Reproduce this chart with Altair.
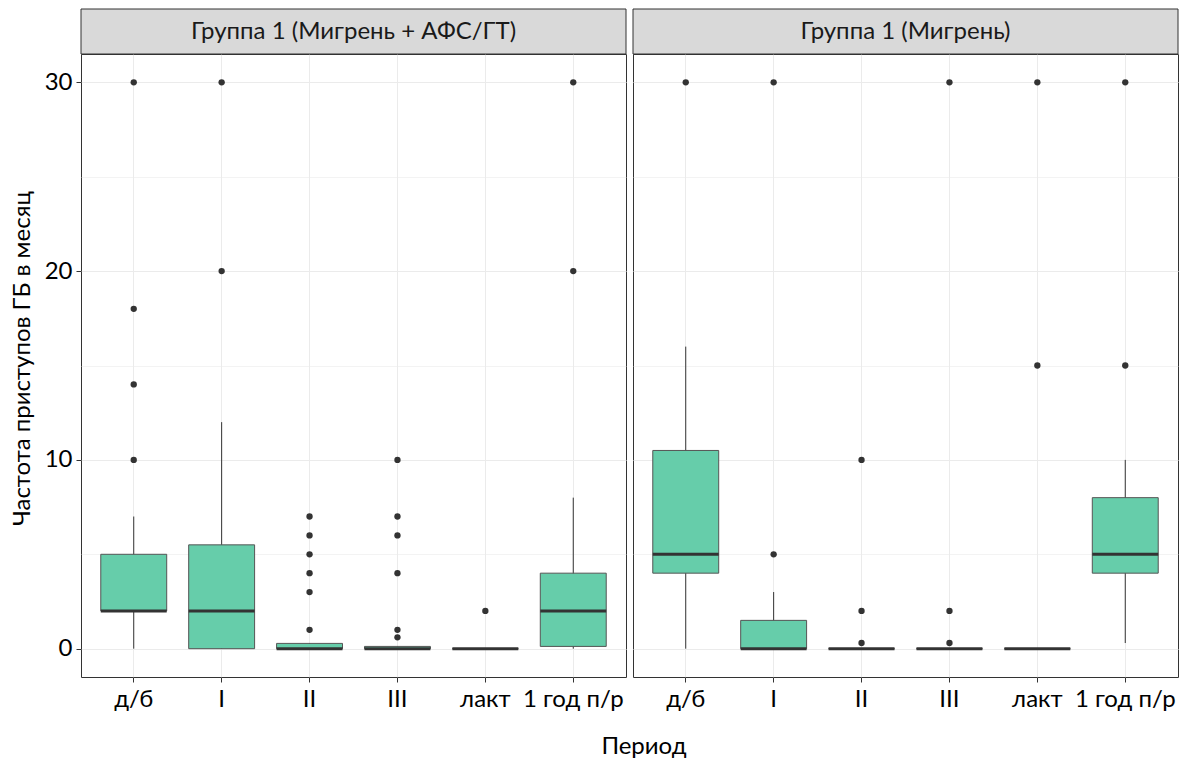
import altair as alt
import pandas as pd

periods = ["д/б", "I", "II", "III", "лакт", "1 год п/р"]
panel_titles = ["Группа 1 (Мигрень + АФС/ГТ)", "Группа 1 (Мигрень)"]
y_title = "Частота приступов ГБ в месяц"
x_title = "Период"

# Panel 1: box statistics per period
p1_q1 = [2, 0, 0, 0, 0, 0.12]
p1_med = [2, 2, 0, 0, 0, 2]
p1_q3 = [5, 5.5, 0.28, 0.12, 0, 4]
p1_lo = [0, 0, 0, 0, 0, 0]
p1_hi = [7, 12, 0.28, 0.12, 0, 8]
p1_outliers = [
    [10, 14, 18, 30],
    [20, 30],
    [1, 3, 4, 5, 6, 7],
    [0.6, 1, 4, 6, 7, 10],
    [2],
    [20, 30],
]

# Panel 2
p2_q1 = [4, 0, 0, 0, 0, 4]
p2_med = [5, 0, 0, 0, 0, 5]
p2_q3 = [10.5, 1.5, 0, 0, 0, 8]
p2_lo = [0, 0, 0, 0, 0, 0.3]
p2_hi = [16, 3, 0, 0, 0, 10]
p2_outliers = [
    [30],
    [5, 30],
    [0.3, 2, 10],
    [0.3, 2, 30],
    [15, 30],
    [15, 30],
]

y_ticks = [0, 5, 10, 15, 20, 25, 30]

W = 545
H = 623
STEP = W / 6.2
BOX_W = 0.75 * STEP
FONT = "Lato"
FILL = "#66CDAA"
DARK = "#333333"


def box_frame(q1, med, q3, lo, hi):
    return pd.DataFrame({"period": periods, "q1": q1, "med": med, "q3": q3, "lo": lo, "hi": hi})


def out_frame(outs):
    rows = []
    for p, vals in zip(periods, outs):
        for v in vals:
            rows.append({"period": p, "value": v})
    return pd.DataFrame(rows)


def panel(title, q1, med, q3, lo, hi, outs, first):
    bdf = box_frame(q1, med, q3, lo, hi)
    odf = out_frame(outs)
    xscale = alt.Scale(domain=periods, paddingInner=0, paddingOuter=0.1)
    yscale = alt.Scale(domain=[-1.5, 31.5], nice=False, zero=False)
    xaxis = alt.Axis(
        title=None, labelAngle=0, labelFontSize=24, labelColor="black", labelFont=FONT,
        tickColor=DARK, tickSize=5, tickWidth=1, labelPadding=5, domain=False,
        grid=True, gridColor="#EBEBEB", gridWidth=1, bandPosition=0.5,
    )
    grid_w = {"condition": {"test": "datum.value % 10 != 0", "value": 0.6}, "value": 1.1}
    if first:
        yaxis = alt.Axis(
            title=y_title, titleFontSize=24, titleFont=FONT, titleColor="black",
            titleFontWeight="normal", titlePadding=10, titleY=304,
            values=y_ticks, labelExpr="datum.value % 10 == 0 ? datum.label : ''",
            labelFontSize=24, labelColor="black", labelFont=FONT, labelPadding=4,
            tickColor=DARK, tickSize=5, tickWidth=1,
            tickOpacity={"condition": {"test": "datum.value % 10 != 0", "value": 0}, "value": 1},
            domain=False, grid=True, gridColor="#EBEBEB", gridWidth=grid_w,
        )
    else:
        yaxis = alt.Axis(
            title=None, values=y_ticks, labels=False, ticks=False, domain=False,
            grid=True, gridColor="#EBEBEB", gridWidth=grid_w,
        )
    X = alt.X("period:N", scale=xscale, axis=xaxis, sort=periods)

    whisk = alt.Chart(bdf).mark_rule(color=DARK, strokeWidth=1).encode(
        x=X, y=alt.Y("lo:Q", scale=yscale, axis=yaxis), y2="hi:Q"
    )
    box = alt.Chart(bdf).mark_bar(
        width=BOX_W, fill=FILL, stroke="#555555", strokeWidth=1
    ).encode(x=X, y=alt.Y("q1:Q", scale=yscale, axis=yaxis), y2="q3:Q")
    medl = alt.Chart(bdf).mark_tick(size=BOX_W, thickness=3, color=DARK, opacity=1).encode(
        x=X, y=alt.Y("med:Q", scale=yscale, axis=yaxis)
    )
    pts = alt.Chart(odf).mark_circle(size=40, color=DARK, opacity=1).encode(
        x=X, y=alt.Y("value:Q", scale=yscale, axis=yaxis)
    )
    sdata = alt.Data(values=[{"label": title}])
    strip = alt.Chart(sdata).mark_rect(fill="#D9D9D9", stroke=DARK, strokeWidth=1).encode(
        x=alt.value(0), x2=alt.value(W), y=alt.value(-45), y2=alt.value(0)
    )
    stext = alt.Chart(sdata).mark_text(
        font=FONT, fontSize=24, color="#1A1A1A", baseline="middle", align="center"
    ).encode(x=alt.value(W / 2), y=alt.value(-22), text="label:N")
    layers = [whisk, box, medl, pts, strip, stext]
    if first:
        xt = alt.Chart(alt.Data(values=[{"t": x_title}])).mark_text(
            font=FONT, fontSize=24, color="black", baseline="alphabetic", align="center"
        ).encode(x=alt.value(563), y=alt.value(700), text="t:N")
        layers.append(xt)
    return alt.layer(*layers).properties(width=W, height=H)


c1 = panel(panel_titles[0], p1_q1, p1_med, p1_q3, p1_lo, p1_hi, p1_outliers, True)
c2 = panel(panel_titles[1], p2_q1, p2_med, p2_q3, p2_lo, p2_hi, p2_outliers, False)

chart = alt.hconcat(c1, c2, spacing=7, bounds="flush").properties(
    padding={"left": 9, "top": 8, "right": 5, "bottom": 5}, background="white"
).configure_view(stroke=DARK, strokeWidth=1)

chart.save("out.html", embed_options={"renderer": "svg", "actions": False})
